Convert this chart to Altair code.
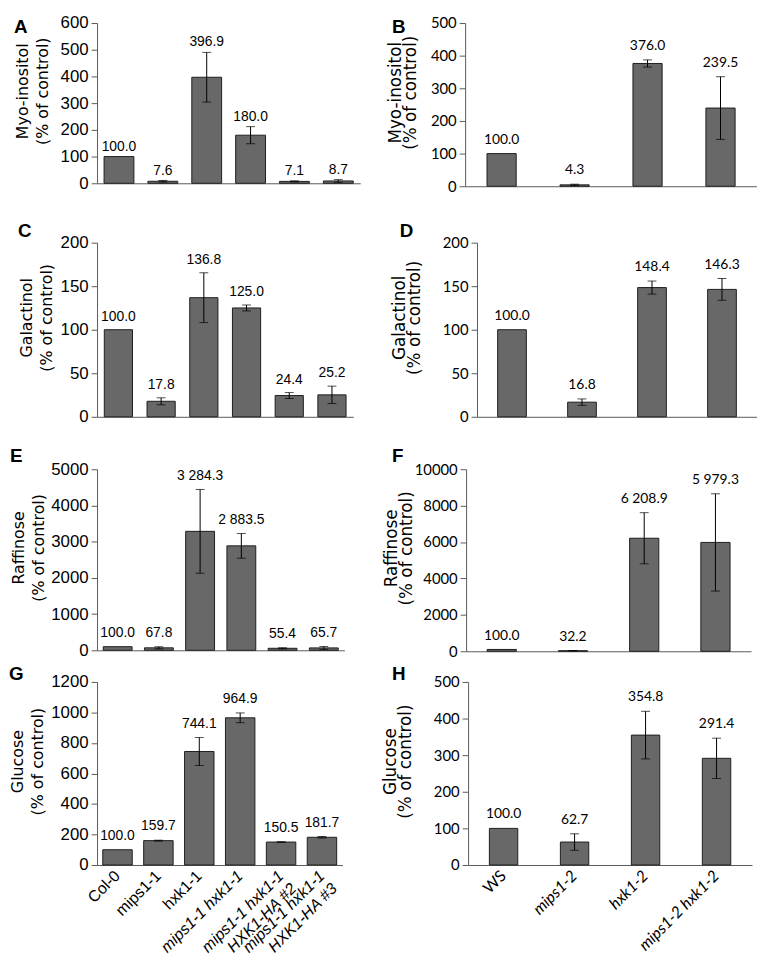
import altair as alt
import pandas as pd

# ---------------- data ----------------
left_groups = ["Col-0", "mips1-1", "hxk1-1", "mips1-1 hxk1-1",
               "mips1-1 hxk1-1|HXK1-HA #2", "mips1-1 hxk1-1|HXK1-HA #3"]
right_groups = ["WS", "mips1-2", "hxk1-2", "mips1-2 hxk1-2"]

myo_left = [100.0, 7.6, 396.9, 180.0, 7.1, 8.7]
myo_left_err = [0, 3, 93, 32, 2, 5]
myo_right = [100.0, 4.3, 376.0, 239.5]
myo_right_err = [0, 2, 11, 96]

gal_left = [100.0, 17.8, 136.8, 125.0, 24.4, 25.2]
gal_left_err = [0, 4, 28.6, 3.4, 3.4, 10]
gal_right = [100.0, 16.8, 148.4, 146.3]
gal_right_err = [0, 3.7, 7.5, 12.5]

raf_left = [100.0, 67.8, 3284.3, 2883.5, 55.4, 65.7]
raf_left_err = [0, 30, 1157, 340, 15, 40]
raf_right = [100.0, 32.2, 6208.9, 5979.3]
raf_right_err = [0, 10, 1404, 2672]

glc_left = [100.0, 159.7, 744.1, 964.9, 150.5, 181.7]
glc_left_err = [0, 3, 92, 32, 2, 5]
glc_right = [100.0, 62.7, 354.8, 291.4]
glc_right_err = [0, 22.5, 65, 55]

BAR_FILL = "#686868"
BAR_STROKE = "#1e1e1e"
AXIS_COLOR = "#5a5a5a"
RIGHT_ANCHOR = 104

LEFT_STYLE = dict(font="Liberation Sans", tick_fs=17, val_fs=14, xlab_fs=16,
                  title_font="DejaVu Sans", title_fs=16,
                  t1=17, t2=37)          # page x of the two title lines
RIGHT_STYLE = dict(font="Lato", tick_fs=15, val_fs=14, xlab_fs=16,
                   title_font="DejaVu Sans", title_fs=17,
                   t1=392, t2=407)


def fmt(v):
    return f"{v:,.1f}".replace(",", " ")


def anchor(px, py):
    return alt.Chart(pd.DataFrame({"a": [0]})).mark_point(
        size=1, opacity=0, strokeWidth=0, filled=True).encode(
        x=alt.value(px), y=alt.value(py))


def text_item(txt, px, py, **kw):
    return alt.Chart(pd.DataFrame({"t": [txt]})).mark_text(
        color="black", **kw).encode(x=alt.value(px), y=alt.value(py), text="t:N")


def panel(letter, groups, vals, errs, title_lines, ymax, step, width, height,
          style, bottom, italic_test, axis_page, letter_x, letter_y, gap,
          pad_inner, left_anchor, top_anchor, is_left):
    font = style["font"]
    df = pd.DataFrame({"g": groups, "v": vals, "e": errs})
    df["lo"] = df["v"] - df["e"]
    df["hi"] = df["v"] + df["e"]
    df["lab"] = [fmt(v) for v in vals]

    if bottom:
        xaxis = alt.Axis(
            title=None, ticks=False, domainColor=AXIS_COLOR, domainWidth=1,
            labelAngle=-45, labelAlign="right", labelBaseline="middle",
            labelPadding=8, labelFont=font, labelFontSize=style["xlab_fs"],
            labelColor="black", labelLineHeight=18,
            labelExpr="split(datum.label, '|')",
            labelFontStyle={"condition": {"test": italic_test, "value": "italic"},
                            "value": "normal"},
            labelLimit=300,
        )
    else:
        xaxis = alt.Axis(title=None, ticks=False, labels=False,
                         domainColor=AXIS_COLOR, domainWidth=1)

    xs = alt.Scale(paddingInner=pad_inner, paddingOuter=pad_inner / 2)
    x = alt.X("g:N", sort=groups, scale=xs, axis=xaxis)

    yaxis = alt.Axis(
        values=list(range(0, ymax + 1, step)), format="d", grid=False,
        domainColor=AXIS_COLOR, tickColor=AXIS_COLOR, tickSize=6,
        labelPadding=3, labelFont=font, labelFontSize=style["tick_fs"],
        labelColor="black", title=None,
    )
    ys = alt.Scale(domain=[0, ymax], nice=False, zero=True)

    base = alt.Chart(df)
    bars = base.mark_bar(fill=BAR_FILL, stroke=BAR_STROKE, strokeWidth=1).encode(
        x=x, y=alt.Y("v:Q", scale=ys, axis=yaxis))
    eb = base.transform_filter("datum.e > 0")
    rule = eb.mark_rule(color="black", strokeWidth=1).encode(
        x=x, y=alt.Y("lo:Q", scale=ys, axis=yaxis), y2="hi:Q")
    cap_hi = eb.mark_tick(color="black", thickness=1, size=9,
                          orient="horizontal").encode(
        x=x, y=alt.Y("hi:Q", scale=ys, axis=yaxis))
    cap_lo = eb.mark_tick(color="black", thickness=1, size=9,
                          orient="horizontal").encode(
        x=x, y=alt.Y("lo:Q", scale=ys, axis=yaxis))
    text = base.mark_text(baseline="alphabetic", dy=-gap, font=font,
                          fontSize=style["val_fs"], color="black").encode(
        x=x, y=alt.Y("hi:Q", scale=ys, axis=yaxis), text="lab:N")
    let = text_item(letter, letter_x, letter_y, align="left",
                    baseline="alphabetic", font="Liberation Sans",
                    fontWeight="bold", fontSize=19)
    ty = height / 2 - 12
    t1 = text_item(title_lines[0], style["t1"] - axis_page, ty, angle=270,
                   align="center", baseline="middle", font=style["title_font"],
                   fontSize=style["title_fs"])
    t2 = text_item(title_lines[1], style["t2"] - axis_page, ty, angle=270,
                   align="center", baseline="middle", font=style["title_font"],
                   fontSize=style["title_fs"])
    layers = [bars, rule, cap_hi, cap_lo, text, let, t1, t2,
              anchor(-left_anchor, -top_anchor), anchor(-left_anchor, height + 8)]
    if is_left:
        layers.append(anchor(width, height + 8))
    return alt.layer(*layers).properties(width=width, height=height)


LT = "indexof(datum.value, 'mips1-1 hxk1-1') >= 0"
RT = "datum.value != 'WS'"

# row 1
A = panel("A", left_groups, myo_left, myo_left_err, ["Myo-inositol", "(% of control)"],
          600, 100, 266, 162, LEFT_STYLE, False, LT, 92, -84, 10, 6, 0.32,
          84, 9, True)
B = panel("B", right_groups, myo_right, myo_right_err, ["Myo-inositol", "(% of control)"],
          500, 100, 295, 165, RIGHT_STYLE, False, RT, 462, -74, 10, 10, 0.6,
          RIGHT_ANCHOR, 9, False)
# row 2
C = panel("C", left_groups, gal_left, gal_left_err, ["Galactinol", "(% of control)"],
          200, 50, 259, 176, LEFT_STYLE, False, LT, 88, -80, -6, 9, 0.34,
          80, 22, True)
D = panel("D", right_groups, gal_right, gal_right_err, ["Galactinol", "(% of control)"],
          200, 50, 283, 176, RIGHT_STYLE, False, RT, 470, -78, -6, 10, 0.59,
          RIGHT_ANCHOR, 22, False)
# row 3
E = panel("E", left_groups, raf_left, raf_left_err, ["Raffinose", "(% of control)"],
          5000, 1000, 250, 183, LEFT_STYLE, False, LT, 96, -88, -7, 10, 0.3,
          88, 23, True)
F = panel("F", right_groups, raf_right, raf_right_err, ["Raffinose", "(% of control)"],
          10000, 2000, 288, 184, RIGHT_STYLE, False, RT, 467, -75, -7, 10, 0.59,
          RIGHT_ANCHOR, 23, False)
# row 4
G = panel("G", left_groups, glc_left, glc_left_err, ["Glucose", "(% of control)"],
          1200, 200, 248, 185, LEFT_STYLE, True, LT, 97, -89, -2, 10, 0.28,
          89, 18, True)
H = panel("H", right_groups, glc_right, glc_right_err, ["Glucose", "(% of control)"],
          500, 100, 287, 185, RIGHT_STYLE, True, RT, 470, -77, -2, 10, 0.6,
          RIGHT_ANCHOR, 18, False)

r1 = alt.hconcat(A, B, spacing=0)
r2 = alt.hconcat(C, D, spacing=19)
r3 = alt.hconcat(E, F, spacing=17)
r4 = alt.hconcat(G, H, spacing=21)

v12 = alt.vconcat(r1, r2, spacing=25)
v123 = alt.vconcat(v12, r3, spacing=20)
chart = alt.vconcat(v123, r4, spacing=3).properties(
    padding={"left": 0, "top": 0, "right": 0, "bottom": 0},
    background="white",
).configure_view(stroke=None)

chart.save("out.html", embed_options={"renderer": "svg", "actions": False})
